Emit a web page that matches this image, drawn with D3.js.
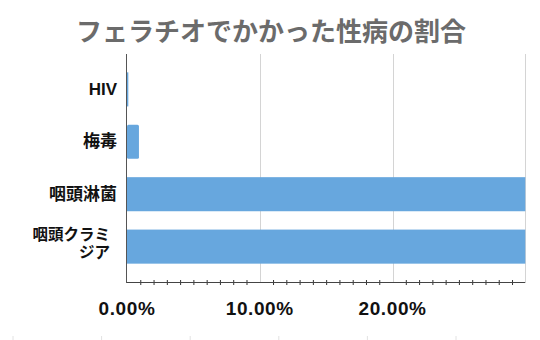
<!DOCTYPE html>
<html><head><meta charset="utf-8">
<script src="https://cdn.jsdelivr.net/npm/d3@7"></script>
<style>
html,body{margin:0;padding:0;background:#fff;}
svg{display:block;}
</style></head>
<body>
<svg id="chart" width="540" height="340"></svg>
<script>
const title = "フェラチオでかかった性病の割合";
const categories = ["HIV", "梅毒", "咽頭淋菌", "咽頭クラミジア"];
const values = [0.001, 0.009, 0.36, 0.40];
const majorTicks = [0, 0.1, 0.2, 0.3];
const tickLabels = ["0.00%", "10.00%", "20.00%", ""];

const svg = d3.select("#chart");
const W = 540, H = 340;
const m = {left: 127, right: 15, top: 54, bottom: 58};

const x = d3.scaleLinear().domain([0, 0.3]).range([m.left, W - m.right + 0.3]).clamp(true);
const y = d3.scaleBand().domain(categories).range([m.top, H - m.bottom]).paddingInner(0.35).paddingOuter(0.35);

// faint sheet column marks at bottom
svg.append("g").selectAll("line").data(d3.range(6)).join("line")
  .attr("x1", i => 13 + i * 88.6).attr("x2", i => 13 + i * 88.6)
  .attr("y1", 336).attr("y2", 340).attr("stroke", "#e2e2e2").attr("stroke-width", 1);

// title
svg.append("text").attr("x", 271).attr("y", 29)
  .attr("text-anchor", "middle").attr("dominant-baseline", "central")
  .attr("font-family", "'Noto Sans CJK JP', sans-serif").attr("font-weight", "bold")
  .attr("font-size", 26).attr("fill", "#6b6b6b").text(title);

// gridlines
svg.append("g").selectAll("line").data(majorTicks.slice(1)).join("line")
  .attr("x1", d => Math.round(x(d)) + 0.5).attr("x2", d => Math.round(x(d)) + 0.5)
  .attr("y1", m.top).attr("y2", H - m.bottom)
  .attr("stroke", "#d4d4d4").attr("stroke-width", 1);

// bars
svg.append("g").selectAll("rect").data(categories).join("rect")
  .attr("x", x(0)).attr("y", d => y(d))
  .attr("width", (d, i) => Math.max(1, x(values[i]) - x(0)))
  .attr("height", y.bandwidth())
  .attr("rx", (d, i) => (x(values[i]) - x(0)) > 6 && (x(values[i]) - x(0)) < 50 ? 1.5 : 0)
  .attr("fill", "#67a7de");

// x axis (minor ticks)
const minor = d3.range(1, 30).filter(v => v % 10 !== 0).map(v => v / 100);
const xAxis = d3.axisBottom(x).tickValues(minor).tickSize(5).tickFormat("");
const gx = svg.append("g").attr("transform", `translate(0,${H - m.bottom - 2})`).call(xAxis);
gx.select(".domain").remove();
gx.selectAll(".tick line").attr("stroke", "#333");
svg.append("line").attr("x1", m.left).attr("x2", x(0.3))
  .attr("y1", H - m.bottom + 0.5).attr("y2", H - m.bottom + 0.5)
  .attr("stroke", "#444").attr("stroke-width", 1);

// x tick labels
svg.append("g").selectAll("text").data(majorTicks).join("text")
  .attr("x", d => x(d)).attr("y", 315)
  .attr("text-anchor", "middle")
  .attr("font-family", "'Liberation Sans', Arial, sans-serif").attr("font-weight", "bold")
  .attr("font-size", 19).attr("letter-spacing", 0.6).attr("fill", "#111")
  .text((d, i) => tickLabels[i]);

// y axis line
svg.append("line").attr("x1", m.left - 0.5).attr("x2", m.left - 0.5)
  .attr("y1", m.top).attr("y2", H - m.bottom + 1)
  .attr("stroke", "#555").attr("stroke-width", 1);

// y labels
const yl = svg.append("g");
categories.forEach(c => {
  const cy = y(c) + y.bandwidth() / 2;
  if (c.length > 5) {
    const lines = [c.slice(0, 5), c.slice(5)];
    lines.forEach((l, k) => {
      yl.append("text").attr("text-anchor", "end")
        .attr("font-family", "'Liberation Sans', 'Noto Sans CJK JP', sans-serif")
        .attr("font-weight", "bold").attr("fill", "#111")
        .attr("font-size", 15.5)
        .attr("x", 110).attr("y", cy - 3 + (k - 0.5) * 17.5)
        .attr("dominant-baseline", "central").text(l);
    });
  } else {
    yl.append("text").attr("text-anchor", "end")
      .attr("font-family", "'Liberation Sans', 'Noto Sans CJK JP', sans-serif")
      .attr("font-weight", "bold").attr("fill", "#111")
      .attr("font-size", 17).attr("x", 117).attr("y", cy)
      .attr("dominant-baseline", "central").text(c);
  }
});
</script>
</body></html>
